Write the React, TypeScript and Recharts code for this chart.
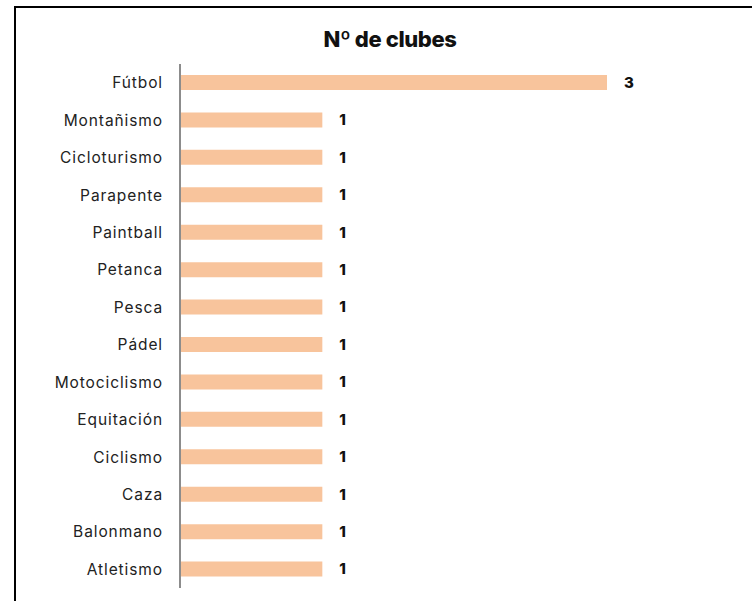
import { BarChart, Bar, XAxis, YAxis, LabelList } from 'recharts';

const sports = [
    'Fútbol', 'Montañismo', 'Cicloturismo', 'Parapente', 'Paintball', 'Petanca', 'Pesca',
    'Pádel', 'Motociclismo', 'Equitación', 'Ciclismo', 'Caza', 'Balonmano', 'Atletismo',
];
const clubs = [3, 1, 1, 1, 1, 1, 1, 1, 1, 1, 1, 1, 1, 1];

const data = sports.map((name, i) => ({ name, clubs: clubs[i] }));

const font = 'Inter, "Open Sans", sans-serif';

export default function App() {
    return (
        <div style={{ position: 'fixed', left: 0, top: 0, width: 752, height: 601, overflow: 'hidden', background: '#fff' }}>
            {/* frame */}
            <div
                style={{
                    position: 'absolute',
                    left: 14,
                    top: 6,
                    width: 800,
                    height: 700,
                    borderLeft: '2px solid #000',
                    borderTop: '2px solid #000',
                }}
            />
            {/* title */}
            <div
                style={{
                    position: 'absolute',
                    left: 0,
                    top: 26,
                    width: 780,
                    textAlign: 'center',
                    fontFamily: font,
                    fontWeight: 800,
                    fontSize: 22,
                    color: '#111',
                    letterSpacing: -0.4,
                }}
            >
                Nº de clubes
            </div>
            <div style={{ position: 'absolute', left: 0, top: 0 }}>
                <BarChart
                    width={752}
                    height={601}
                    data={data}
                    layout="vertical"
                    margin={{ top: 64, right: 145, bottom: 13, left: 0 }}
                >
                    <XAxis type="number" domain={[0, 3]} hide />
                    <YAxis
                        type="category"
                        dataKey="name"
                        width={180}
                        axisLine={{ stroke: '#8c8c8c', strokeWidth: 2 }}
                        tickLine={false}
                        tickSize={6}
                        tickMargin={11}
                        interval={0}
                        tick={{ fill: '#222', fontSize: 15.5, fontFamily: font, letterSpacing: 0.9 }}
                    />
                    <Bar dataKey="clubs" fill="#F8C49C" barSize={15} isAnimationActive={false}>
                        <LabelList
                            dataKey="clubs"
                            position="right"
                            offset={17}
                            style={{ fill: '#111', fontSize: 15, fontWeight: 800, fontFamily: font }}
                        />
                    </Bar>
                </BarChart>
            </div>
        </div>
    );
}
